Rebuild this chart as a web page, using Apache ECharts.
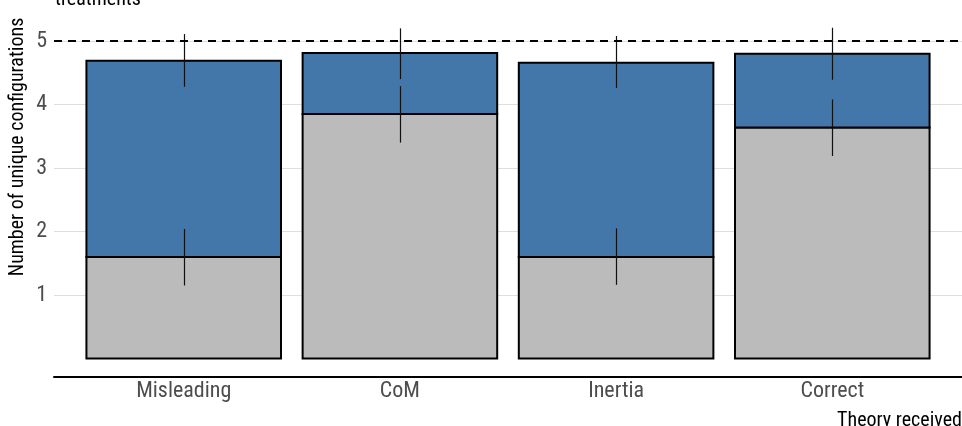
<!DOCTYPE html>
<html>
<head>
<meta charset="utf-8">
<script src="https://cdn.jsdelivr.net/npm/echarts@6/dist/echarts.min.js"></script>
<style>
html,body{margin:0;padding:0;background:#fff;}
#chart{width:962px;height:426px;}
</style>
</head>
<body>
<div id="chart"></div>
<script>
// ---- data ----
var categories = ['Misleading', 'CoM', 'Inertia', 'Correct'];
var positions = [1, 2, 3, 4];
var grayValues = [1.60, 3.85, 1.60, 3.64];
var blueValues = [3.09, 0.96, 3.06, 1.16];
var grayErrLow = [1.15, 3.40, 1.16, 3.19];
var grayErrHigh = [2.04, 4.29, 2.05, 4.08];
var totalErrLow = [4.28, 4.40, 4.26, 4.39];
var totalErrHigh = [5.11, 5.20, 5.08, 5.21];
var yTicks = [1, 2, 3, 4, 5];
var refLine = 5;

var FONT = "'Roboto Condensed', 'Liberation Sans Narrow', 'DejaVu Sans Condensed', Roboto, sans-serif";

var barData = [];
positions.forEach(function (p, i) {
  barData.push([p, 0, grayValues[i], 0]);
  barData.push([p, grayValues[i], grayValues[i] + blueValues[i], 1]);
});
var errData = [];
positions.forEach(function (p, i) {
  errData.push([p, grayErrLow[i], grayErrHigh[i]]);
  errData.push([p, totalErrLow[i], totalErrHigh[i]]);
});
var fills = ['#BBBBBB', '#4477A9'];

var chart = echarts.init(document.getElementById('chart'), null, {renderer: 'canvas'});
chart.setOption({
  animation: false,
  backgroundColor: '#ffffff',
  grid: {left: 54, right: 0, top: 22, bottom: 67.5},
  xAxis: {
    type: 'value', min: 0.4, max: 4.6,
    offset: 18,
    axisLine: {show: true, onZero: false, lineStyle: {color: '#000', width: 2}},
    axisTick: {show: false},
    splitLine: {show: false},
    axisLabel: {
      customValues: positions,
      margin: 4,
      fontFamily: FONT, fontSize: 22, color: '#4d4d4d',
      formatter: function (v) { var i = positions.indexOf(Math.round(v)); return i >= 0 ? categories[i] : ''; }
    }
  },
  yAxis: {
    type: 'value', min: 0, max: 5.3, interval: 1,
    axisLine: {show: false},
    axisTick: {show: false},
    splitLine: {show: true, showMinLine: false, showMaxLine: false, lineStyle: {color: '#dedede', width: 1}},
    axisLabel: {
      margin: 7,
      fontFamily: FONT, fontSize: 22, color: '#4d4d4d',
      formatter: function (v) { return yTicks.indexOf(v) >= 0 ? String(v) : ''; }
    }
  },
  graphic: [
    {type: 'text', x: 18, y: 147, rotation: Math.PI / 2,
     style: {text: 'Number of unique configurations', fontFamily: FONT, fontSize: 20, fill: '#000', align: 'center', verticalAlign: 'middle'}},
    {type: 'text', right: 0, bottom: -5,
     style: {text: 'Theory received', fontFamily: FONT, fontSize: 20, fill: '#000'}},
    {type: 'text', x: 55, y: -10,
     style: {text: 'treatments', fontFamily: FONT, fontSize: 20, fill: '#000', verticalAlign: 'top'}}
  ],
  series: [
    {
      type: 'custom',
      data: barData,
      encode: {x: 0, y: [1, 2]},
      renderItem: function (params, api) {
        var x = api.value(0);
        var p0 = api.coord([x - 0.45, api.value(2)]);
        var p1 = api.coord([x + 0.45, api.value(1)]);
        return {
          type: 'rect',
          shape: {x: p0[0], y: p0[1], width: p1[0] - p0[0], height: p1[1] - p0[1]},
          style: {fill: fills[api.value(3)], stroke: '#000', lineWidth: 2}
        };
      },
      markLine: {
        silent: true, symbol: 'none', label: {show: false},
        lineStyle: {color: '#000', type: [8, 6], width: 2},
        data: [{yAxis: refLine}]
      },
      z: 2
    },
    {
      type: 'custom',
      data: errData,
      encode: {x: 0, y: [1, 2]},
      renderItem: function (params, api) {
        var x = api.value(0);
        var a = api.coord([x, api.value(1)]);
        var b = api.coord([x, api.value(2)]);
        return {
          type: 'line',
          shape: {x1: Math.round(a[0]) + 0.5, y1: a[1], x2: Math.round(b[0]) + 0.5, y2: b[1]},
          style: {stroke: '#111', lineWidth: 1.2}
        };
      },
      z: 3
    }
  ]
});
</script>
</body>
</html>
